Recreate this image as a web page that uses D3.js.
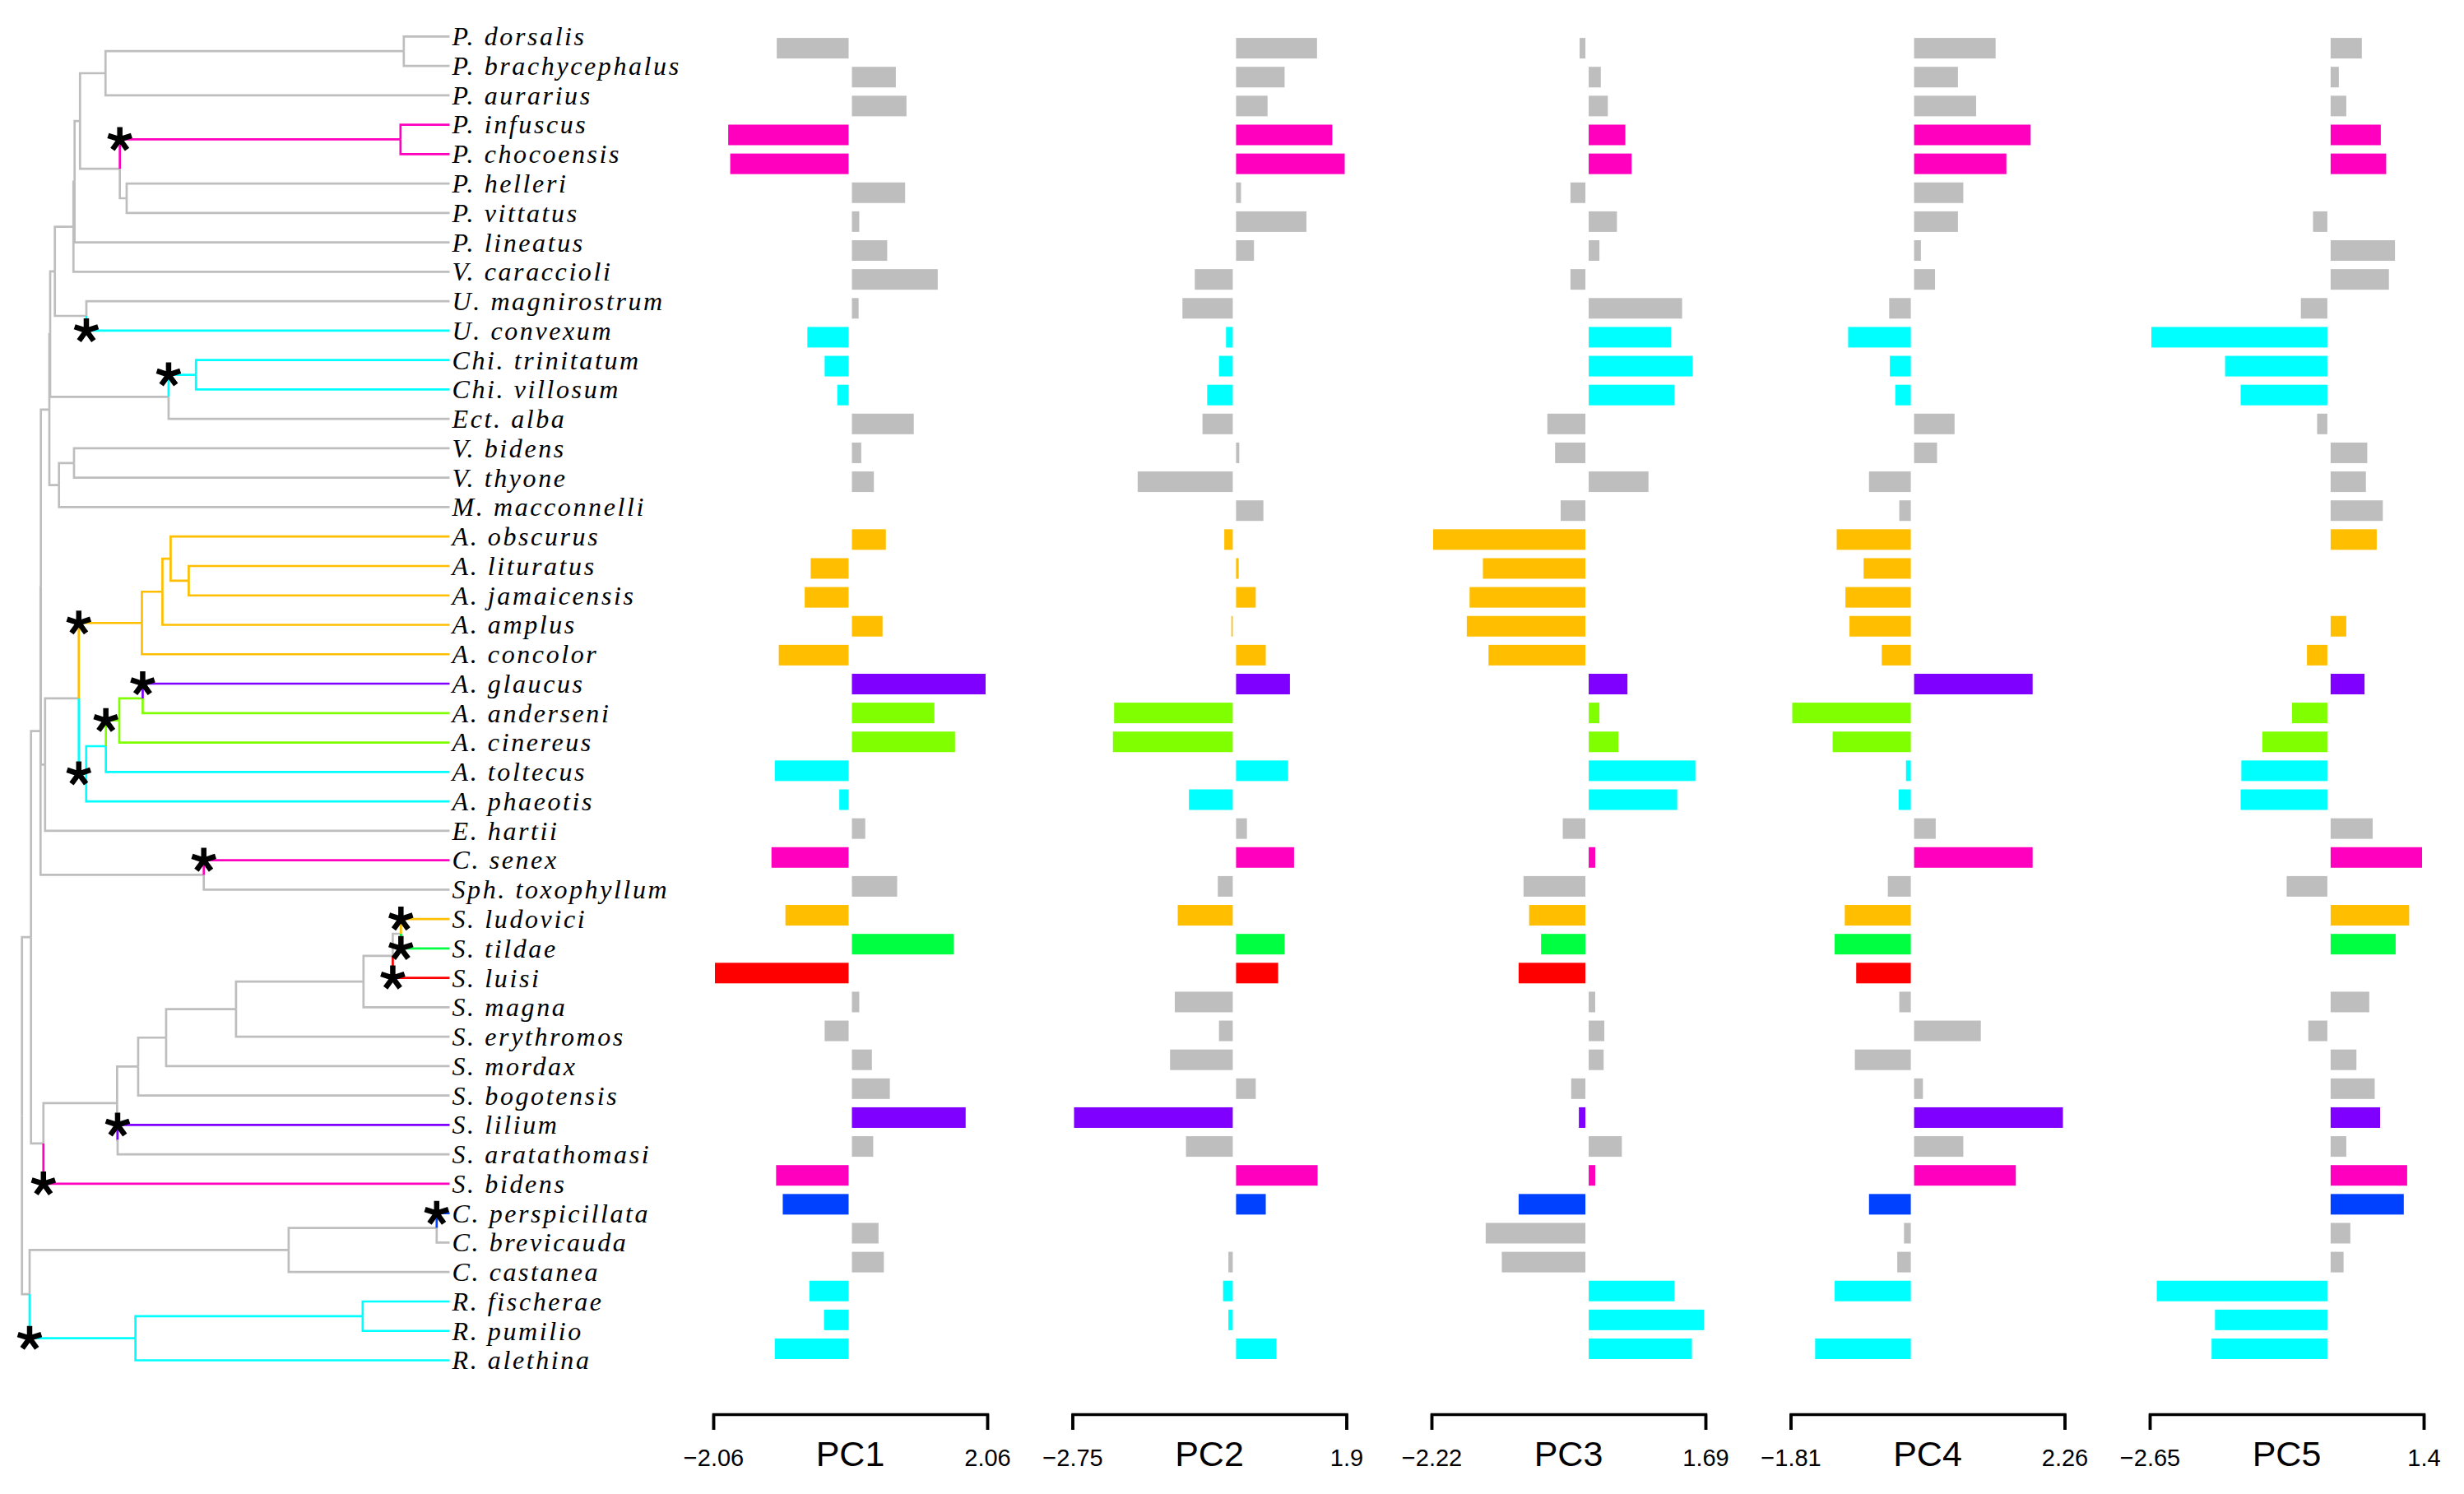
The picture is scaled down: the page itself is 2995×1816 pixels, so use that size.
<!DOCTYPE html>
<html>
<head>
<meta charset="utf-8">
<script src="https://cdn.jsdelivr.net/npm/d3@7"></script>
<style>
  html, body { margin: 0; padding: 0; background: #fff; }
</style>
</head>
<body>
<div id="chart"></div>
<script>
// taxa, top to bottom as they sit in the tree
var tips = ["P. dorsalis", "P. brachycephalus", "P. aurarius", "P. infuscus", "P. chocoensis",
  "P. helleri", "P. vittatus", "P. lineatus", "V. caraccioli", "U. magnirostrum", "U. convexum",
  "Chi. trinitatum", "Chi. villosum", "Ect. alba", "V. bidens", "V. thyone", "M. macconnelli",
  "A. obscurus", "A. lituratus", "A. jamaicensis", "A. amplus", "A. concolor", "A. glaucus",
  "A. anderseni", "A. cinereus", "A. toltecus", "A. phaeotis", "E. hartii", "C. senex",
  "Sph. toxophyllum", "S. ludovici", "S. tildae", "S. luisi", "S. magna", "S. erythromos",
  "S. mordax", "S. bogotensis", "S. lilium", "S. aratathomasi", "S. bidens", "C. perspicillata",
  "C. brevicauda", "C. castanea", "R. fischerae", "R. pumilio", "R. alethina"]

// internal nodes: id, depth from root (tips sit at tipDepth), children top to bottom
var tipDepth = 520
var nodes = [
  ["R0", 0, ["S1", "CR"]],
  ["S1", 11, ["N", "ST"]],
  ["N", 22.6, ["Mp", "SC"]],
  ["Mp", 23, ["B2", "AE"]],
  ["B2", 33.3, ["B1", "VM"]],
  ["B1", 34.3, ["A6", "ChiE"]],
  ["A6", 40, ["A5", "U"]],
  ["A5", 62.6, ["A4", "V. caraccioli"]],
  ["A4", 64, ["A3", "P. lineatus"]],
  ["A3", 70.6, ["A2", "P2"]],
  ["A2", 101.6, ["A1", "P. aurarius"]],
  ["A1", 464.3, ["P. dorsalis", "P. brachycephalus"]],
  ["P2", 119, ["P1", "HV"]],
  ["P1", 460.3, ["P. infuscus", "P. chocoensis"]],
  ["HV", 127.3, ["P. helleri", "P. vittatus"]],
  ["U", 78.3, ["U. magnirostrum", "U. convexum"]],
  ["ChiE", 178.3, ["Chi", "Ect. alba"]],
  ["Chi", 211.6, ["Chi. trinitatum", "Chi. villosum"]],
  ["VM", 45, ["V", "M. macconnelli"]],
  ["V", 63.3, ["V. bidens", "V. thyone"]],
  ["AE", 28.1, ["AR", "E. hartii"]],
  ["AR", 69.1, ["Arti", "Derm"]],
  ["Arti", 145.8, ["OLJA", "A. concolor"]],
  ["OLJA", 170.8, ["OLJ", "A. amplus"]],
  ["OLJ", 180.8, ["A. obscurus", "LJ"]],
  ["LJ", 202.8, ["A. lituratus", "A. jamaicensis"]],
  ["Derm", 78.1, ["GACT", "A. phaeotis"]],
  ["GACT", 102, ["GAC", "A. toltecus"]],
  ["GAC", 118.3, ["GA", "A. cinereus"]],
  ["GA", 146.8, ["A. glaucus", "A. anderseni"]],
  ["SC", 221.1, ["C. senex", "Sph. toxophyllum"]],
  ["ST", 26.1, ["SS", "S. bidens"]],
  ["SS", 115.7, ["Bo", "LA"]],
  ["Bo", 141.3, ["Mo", "S. bogotensis"]],
  ["Mo", 175.3, ["E", "S. mordax"]],
  ["E", 260.3, ["LTLM", "S. erythromos"]],
  ["LTLM", 415.3, ["LTL", "S. magna"]],
  ["LTL", 450.9, ["LT", "S. luisi"]],
  ["LT", 460.8, ["S. ludovici", "S. tildae"]],
  ["LA", 116.3, ["S. lilium", "S. aratathomasi"]],
  ["CR", 9.3, ["Car", "Rh"]],
  ["Car", 324.3, ["PB", "C. castanea"]],
  ["PB", 504.3, ["C. perspicillata", "C. brevicauda"]],
  ["Rh", 138, ["FP", "R. alethina"]],
  ["FP", 414.3, ["R. fischerae", "R. pumilio"]]
]

// branches marked with an asterisk and the colour of the clade above them
var cladeColor = {
  "P1": "#FF00BF", "U. convexum": "#00FFFF", "Chi": "#00FFFF", "Arti": "#FFBF00",
  "A. glaucus": "#8000FF", "GAC": "#80FF00", "Derm": "#00FFFF", "C. senex": "#FF00BF",
  "S. ludovici": "#FFBF00", "S. tildae": "#00FF40", "S. luisi": "#FF0000",
  "S. lilium": "#8000FF", "S. bidens": "#FF00BF", "C. perspicillata": "#0040FF", "Rh": "#00FFFF"
}
var baseColor = "#BEBEBE"

var pcNames = ["PC1", "PC2", "PC3", "PC4", "PC5"]
var pcDomains = [[-2.06, 2.06], [-2.75, 1.9], [-2.22, 1.69], [-1.81, 2.26], [-2.65, 1.4]]

var pc1 = [-1.13, 0.71, 0.87, -1.86, -1.83, 0.85, 0.16, 0.58, 1.34, 0.15, -0.67, -0.41, -0.22, 0.98,
  0.19, 0.38, 0, 0.56, -0.62, -0.71, 0.51, -1.10, 2.06, 1.29, 1.60, -1.16, -0.19, 0.25, -1.21, 0.73,
  -1.00, 1.58, -2.06, 0.16, -0.41, 0.35, 0.62, 1.76, 0.37, -1.14, -1.04, 0.45, 0.53, -0.64, -0.42, -1.16]
var pc2 = [1.43, 0.88, 0.59, 1.69, 1.90, 0.14, 1.25, 0.36, -0.70, -0.91, -0.17, -0.29, -0.49, -0.57,
  0.11, -1.67, 0.52, -0.20, 0.10, 0.39, -0.08, 0.56, 0.97, -2.07, -2.09, 0.94, -0.80, 0.24, 1.04, -0.31,
  -0.99, 0.88, 0.77, -1.04, -0.29, -1.12, 0.39, -2.75, -0.85, 1.44, 0.56, 0, -0.13, -0.22, -0.13, 0.74]
var pc3 = [-0.13, 0.22, 0.32, 0.57, 0.66, -0.26, 0.45, 0.20, -0.26, 1.38, 1.22, 1.53, 1.27, -0.59,
  -0.48, 0.90, -0.40, -2.22, -1.51, -1.70, -1.74, -1.43, 0.60, 0.20, 0.47, 1.57, 1.31, -0.37, 0.14, -0.93,
  -0.85, -0.68, -1.00, 0.14, 0.27, 0.26, -0.25, -0.14, 0.52, 0.14, -1.00, -1.47, -1.24, 1.27, 1.69, 1.52]
var pc4 = [1.26, 0.70, 0.97, 1.78, 1.42, 0.78, 0.70, 0.15, 0.36, -0.37, -0.98, -0.36, -0.28, 0.65,
  0.39, -0.67, -0.22, -1.15, -0.75, -1.02, -0.96, -0.48, 1.81, -1.81, -1.21, -0.12, -0.23, 0.37, 1.81, -0.39,
  -1.03, -1.18, -0.86, -0.22, 1.04, -0.88, 0.18, 2.26, 0.78, 1.56, -0.67, -0.15, -0.25, -1.18, 0, -1.47]
var pc5 = [0.51, 0.17, 0.28, 0.79, 0.87, 0, -0.26, 1.00, 0.91, -0.44, -2.65, -1.56, -1.33, -0.20,
  0.59, 0.57, 0.82, 0.73, 0, 0, 0.28, -0.35, 0.55, -0.57, -1.01, -1.32, -1.33, 0.67, 1.40, -0.65,
  1.21, 1.01, 0, 0.62, -0.33, 0.43, 0.70, 0.78, 0.28, 1.18, 1.13, 0.34, 0.24, -2.57, -1.71, -1.76]
var pcValues = [pc1, pc2, pc3, pc4, pc5]

var svg = d3.select("#chart").append("svg")
  .attr("width", 2995)
  .attr("height", 1816)
  .style("background", "#fff")

// tree rows and bar rows do not share the same spacing in the figure
var treeX = d3.scaleLinear().domain([0, tipDepth]).range([26.7, 546.5])
var treeY = d3.scalePoint().domain(tips).range([44.3, 1653.5])
var barY = d3.scalePoint().domain(tips).range([58.6, 1639.5])
var panelX = d3.scalePoint().domain(pcNames).range([867, 2613])
var panelWidth = 333
var barHeight = 25

// ---- tree ----
var byId = new Map()
nodes.forEach(function(d) { byId.set(d[0], {id: d[0], depth: d[1], kids: d[2]}) })

function yOf(id) {
  if (!byId.has(id)) return treeY(id)
  var n = byId.get(id)
  if (n.y == null) {
    var ys = n.kids.map(yOf)
    n.y = (ys[0] + ys[ys.length - 1]) / 2
  }
  return n.y
}
function xOf(id) {
  return byId.has(id) ? treeX(byId.get(id).depth) : treeX(tipDepth)
}

// edge colour runs down from a marked branch to everything below it
var edgeColor = {}, parentOf = {}
function walk(id, inherited) {
  var col = cladeColor[id] || inherited
  edgeColor[id] = col
  if (byId.has(id)) byId.get(id).kids.forEach(function(k) { parentOf[k] = id; walk(k, col) })
}
byId.get("R0").kids.forEach(function(k) { parentOf[k] = "R0"; walk(k, null) })

var edges = []
byId.forEach(function(n) {
  n.kids.forEach(function(k) {
    edges.push({parent: n.id, child: k, color: edgeColor[k] || baseColor})
  })
})
// grey first so the coloured branches sit on top
edges.sort(function(a, b) { return (a.color == baseColor ? 0 : 1) - (b.color == baseColor ? 0 : 1) })

var tree = svg.append("g")
tree.selectAll("path.edge")
  .data(edges)
  .enter().append("path")
  .attr("class", "edge")
  .attr("d", function(e) {
    return "M" + xOf(e.parent) + "," + yOf(e.parent) + "V" + yOf(e.child) + "H" + xOf(e.child)
  })
  .style("fill", "none")
  .style("stroke", function(e) { return e.color })
  .style("stroke-width", 2.7)
  .style("stroke-linejoin", "miter")

// asterisks at the base of each marked branch
var starArm = 15
var starPath = d3.range(5).map(function(i) {
  var a = -Math.PI / 2 + i * 2 * Math.PI / 5
  return "M0,0L" + (starArm * Math.cos(a)).toFixed(2) + "," + (starArm * Math.sin(a)).toFixed(2)
}).join("")

tree.selectAll("path.star")
  .data(Object.keys(cladeColor))
  .enter().append("path")
  .attr("class", "star")
  .attr("transform", function(id) {
    return "translate(" + xOf(parentOf[id]) + "," + yOf(id) + ")"
  })
  .attr("d", starPath)
  .style("stroke", "#000")
  .style("stroke-width", 6.5)
  .style("fill", "none")

tree.selectAll("text.tip")
  .data(tips)
  .enter().append("text")
  .attr("class", "tip")
  .attr("x", treeX(tipDepth) + 3)
  .attr("y", function(d) { return treeY(d) })
  .attr("dy", "0.34em")
  .style("font-family", "'Liberation Serif', 'DejaVu Serif', serif")
  .style("font-style", "italic")
  .style("font-size", "32px")
  .style("letter-spacing", "2.6px")
  .style("fill", "#000")
  .text(function(d) { return d })

// ---- PC bar panels ----
function fmt(v) { return (v < 0 ? "\u2212" : "") + Math.abs(v) }

pcNames.forEach(function(pc, i) {
  var left = panelX(pc)
  var x = d3.scaleLinear().domain(pcDomains[i]).range([left, left + panelWidth])
  var g = svg.append("g")
  var rows = tips.map(function(t, j) {
    return {name: t, value: pcValues[i][j], color: edgeColor[t] || baseColor}
  }).filter(function(d) { return Math.abs(x(d.value) - x(0)) > 4 })

  g.selectAll("rect")
    .data(rows)
    .enter().append("rect")
    .attr("x", function(d) { return Math.min(x(d.value), x(0)) + 2 })
    .attr("width", function(d) { return Math.abs(x(d.value) - x(0)) - 4 })
    .attr("y", function(d) { return barY(d.name) - barHeight / 2 })
    .attr("height", barHeight)
    .style("fill", function(d) { return d.color })

  var axis = d3.axisBottom(x)
    .tickValues(pcDomains[i])
    .tickSizeInner(19)
    .tickSizeOuter(19)
    .tickFormat(fmt)

  var ax = svg.append("g")
    .attr("transform", "translate(0,1719)")
    .call(axis)
  ax.select(".domain").style("stroke", "#000").style("stroke-width", 3.5)
  ax.selectAll(".tick line").style("stroke", "#000").style("stroke-width", 3.5)
  ax.selectAll(".tick text")
    .attr("y", 63)
    .attr("dy", 0)
    .style("font-family", "'Liberation Sans', Arial, sans-serif")
    .style("font-size", "29px")
    .style("fill", "#000")

  svg.append("text")
    .attr("x", left + panelWidth / 2)
    .attr("y", 1782)
    .attr("text-anchor", "middle")
    .style("font-family", "'Liberation Sans', Arial, sans-serif")
    .style("font-size", "43px")
    .style("fill", "#000")
    .text(pc)
})
</script>
</body>
</html>
